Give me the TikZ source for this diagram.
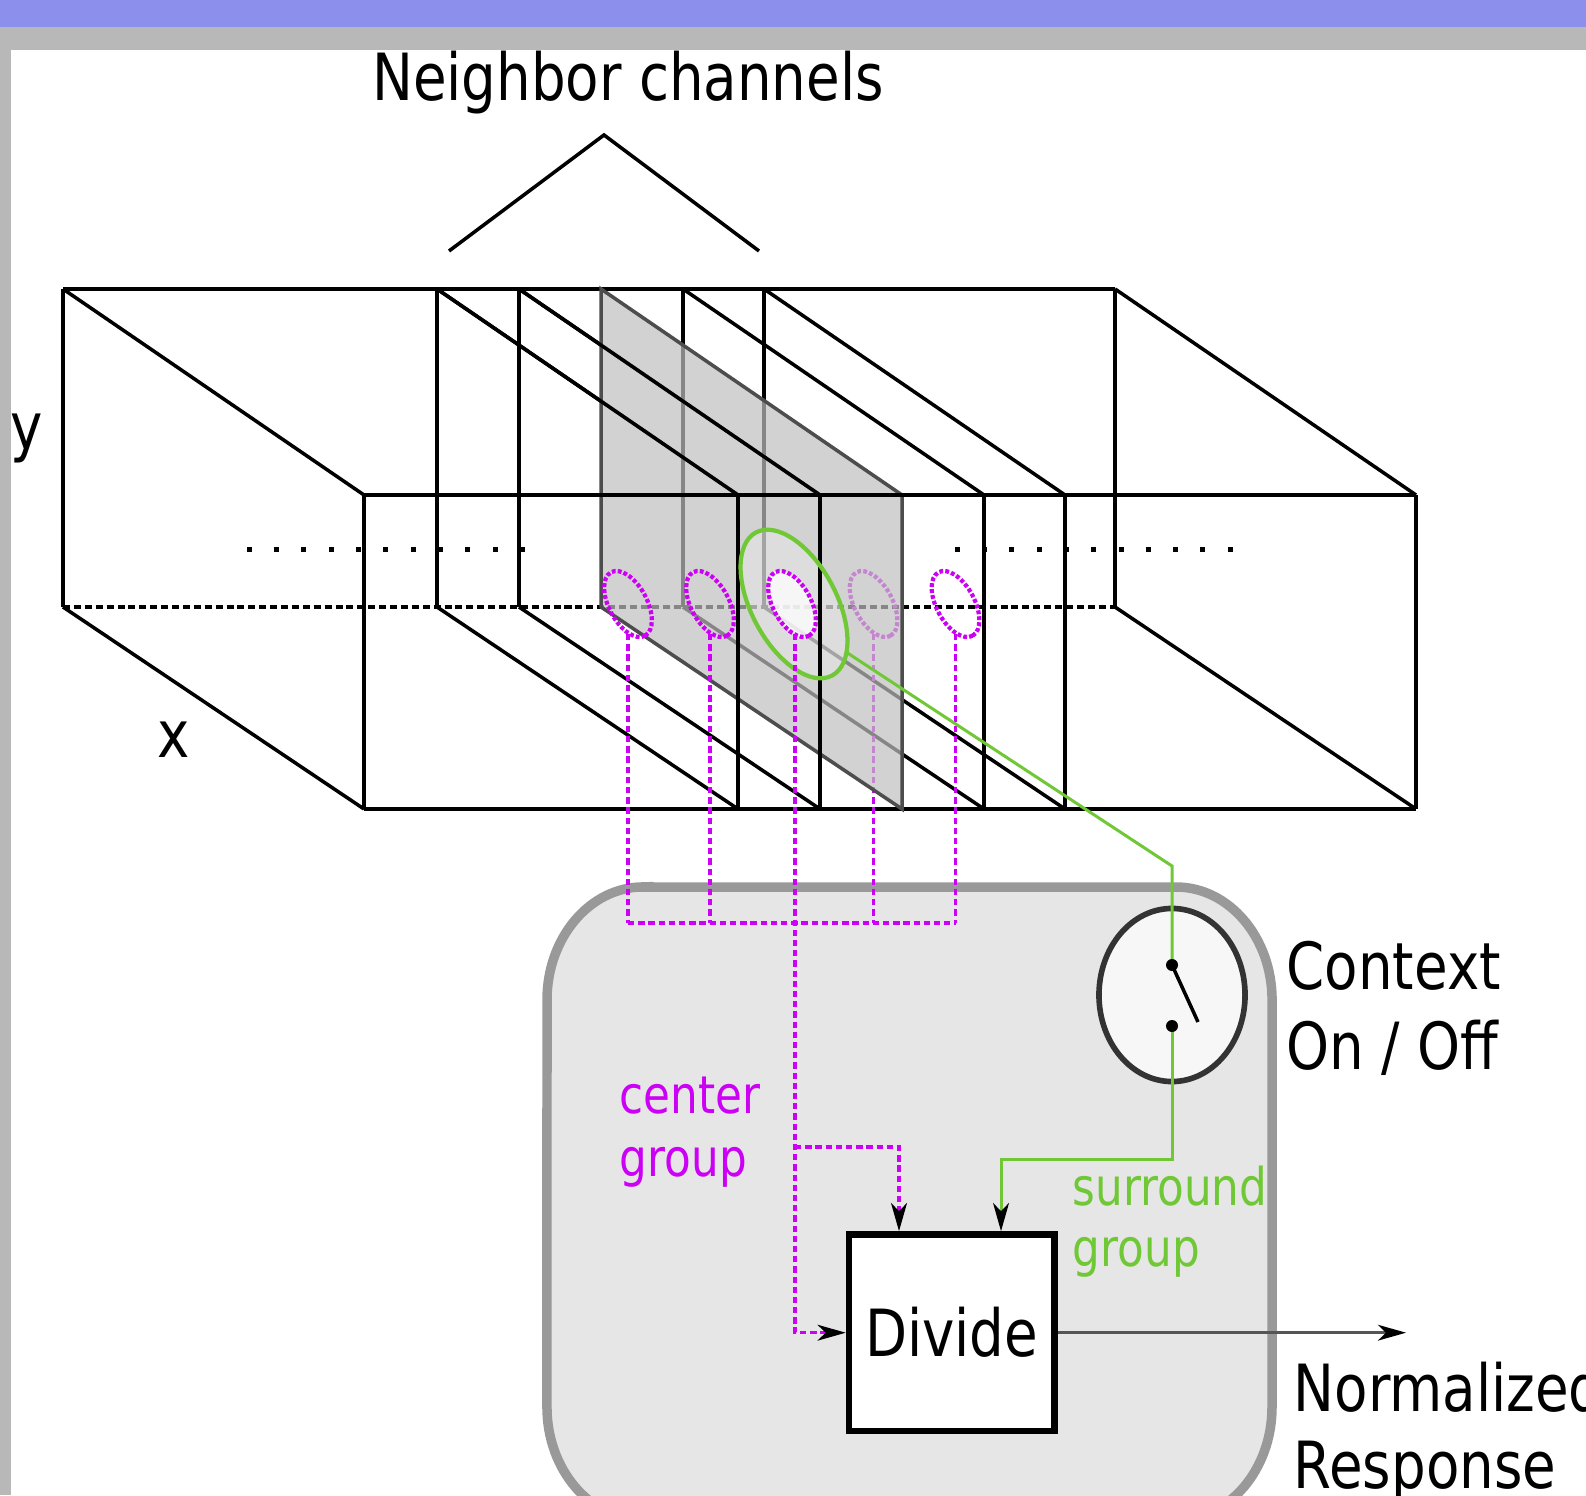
\documentclass[tikz,border=0pt]{standalone}
\usepackage{fontspec}
\usetikzlibrary{arrows.meta,shapes.geometric}
\newfontfamily\dv[FakeStretch=0.84]{DejaVu Sans}
\definecolor{magc}{RGB}{204,0,245}
\definecolor{grn}{RGB}{113,200,55}
\definecolor{topblue}{RGB}{140,143,235}
\definecolor{bandgray}{RGB}{184,184,184}
\definecolor{boxfill}{RGB}{230,230,230}
\definecolor{boxline}{RGB}{153,153,153}
\definecolor{slicefill}{RGB}{192,192,192}
\definecolor{sliceedge}{RGB}{77,77,77}
\definecolor{swline}{RGB}{51,51,51}
\definecolor{swfill}{RGB}{247,247,247}
\definecolor{outc}{RGB}{85,85,85}
\begin{document}
\begin{tikzpicture}[x=0.01cm, y=-0.01cm,
  wire/.style={line width=1pt, black},
  backdash/.style={line width=1pt, black, dash pattern=on 2pt off 1.1pt},
  magline/.style={magc, line width=1pt, dash pattern=on 1.8pt off 1.1pt},
  magell/.style={magc, line width=1.2pt, dash pattern=on 1.1pt off 0.6pt},
  grline/.style={grn, line width=0.85pt},
  bigtxt/.style={font=\dv\fontsize{18.5}{22}\selectfont, inner sep=0pt},
  smalltxt/.style={font=\dv\fontsize{14.8}{17}\selectfont, inner sep=0pt},
  tipped/.style={-{Stealth[length=8pt,width=4.5pt,inset=2.3pt,color=black]}},
]
\useasboundingbox (0,0) rectangle (1586,1495);
\clip (0,0) rectangle (1586,1495);
\fill[white] (0,0) rectangle (1586,1495);
\fill[topblue] (0,0) rectangle (1586,27);
\fill[bandgray] (0,27) rectangle (1586,50);
\fill[bandgray] (0,50) rectangle (11,1495);

% rounded container
\draw[boxline, fill=boxfill, line width=2.7pt]
  (643,887) -- (1176,887) arc[start angle=90, end angle=0, x radius=0.96cm, y radius=1.13cm]
  -- (1272,1407) arc[start angle=0, end angle=-90, x radius=0.96cm, y radius=1.13cm]
  -- (643,1520) arc[start angle=270, end angle=180, x radius=0.96cm, y radius=1.13cm]
  -- (547,1000) arc[start angle=180, end angle=90, x radius=0.96cm, y radius=1.13cm] -- cycle;

% caret and title
\coordinate (cl) at (449,251);
\coordinate (ca) at (604,135);
\coordinate (cr) at (759,251);
\draw[wire] (cl) -- (ca) -- (cr);
\node[bigtxt, anchor=base] (nc) at (628,101) {Neighbor channels};

% wireframe
\foreach \xb in {63,437,519,683,764,1115} {
  \draw[wire] (\xb,289) -- (\xb+301,495);
  \draw[wire] (\xb,607) -- (\xb+301,809);
  \draw[wire] (\xb+301,495) -- (\xb+301,809);
  \draw[wire] (\xb,289) -- (\xb,607);
}
\draw[wire] (63,289) -- (1115,289);
\draw[wire] (364,495) -- (1416,495);
\draw[wire] (364,809) -- (1416,809);
\draw[backdash] (63,607) -- (1115,607);

% dots
\foreach \i in {0,...,10} {
  \fill (249.3+27.3*\i-2.5,547.5) rectangle ++(5,5);
  \fill (957+27.33*\i-2.5,547.5) rectangle ++(5,5);
}

% magenta ellipse behind the centre slice
\draw[magell, shift={(873.5,604)}, rotate=-62] (0,0) ellipse [x radius=0.36cm, y radius=0.19cm];
\coordinate (m4) at (873.5,634);
\draw[magline] (m4) -- (873.5,923);

% centre slice
\fill[slicefill, fill opacity=0.7] (601,289) -- (902,495) -- (902,809) -- (601,607) -- cycle;
\draw[sliceedge, line width=1pt] (601,289) -- (902,495) -- (902,809) -- (601,607) -- cycle;

% light fills
\fill[white, fill opacity=0.25, shift={(794,604)}, rotate=-62] (0,0) ellipse [x radius=0.81cm, y radius=0.425cm];
\fill[white, fill opacity=0.75, shift={(792,604)}, rotate=-62] (0,0) ellipse [x radius=0.36cm, y radius=0.19cm];

% lines in front of slice
\draw[wire] (364,495) -- (1416,495);
\draw[wire] (738,495) -- (738,809);
\draw[wire] (820,495) -- (820,809);
\draw[wire] (437,289) -- (738,495);
\draw[wire] (519,289) -- (820,495);

% green receptive field
\draw[grn, line width=1.2pt, shift={(794,604)}, rotate=-62] (0,0) ellipse [x radius=0.81cm, y radius=0.425cm];

% magenta ellipses in front
\foreach \cx in {628,710,792,955.5} {
  \draw[magell, shift={(\cx,604)}, rotate=-62] (0,0) ellipse [x radius=0.36cm, y radius=0.19cm];
}
\coordinate (m1) at (628,634);
\coordinate (m2) at (710,634);
\coordinate (m3) at (795,634);
\coordinate (m5) at (955.5,634);
\coordinate (h1) at (628,923);
\coordinate (h5) at (955.5,923);
\draw[magline] (m1) -- (h1);
\draw[magline] (m2) -- (710,923);
\draw[magline] (m5) -- (h5);
\draw[magline] (h1) -- (h5);

% switch
\node[ellipse, draw=swline, line width=1.6pt, fill=swfill, minimum width=1.46cm, minimum height=1.73cm, inner sep=0pt] (switch) at (1172,995) {};
\coordinate (gs) at (846,652);
\coordinate (gk) at (1172,866);
\coordinate (st) at (1172,965);
\coordinate (sb) at (1172,1026);
\coordinate (lv) at (1198,1022);
\draw[grline] (gs) -- (gk) -- (st);

% divide
\node[draw, line width=1.8pt, fill=white, minimum width=2.055cm, minimum height=1.965cm, inner sep=0pt, font=\dv\fontsize{18.5}{22}\selectfont] (divide) at (951.7,1332.7) {Divide};

\coordinate (cj) at (795,1147);
\coordinate (cb) at (899,1147);
\coordinate (gl) at (1001,1159);
\coordinate (out) at (1406,1332.7);
\draw[magline, tipped] (m3) |- (divide.west);
\draw[magline, tipped] (cj) -- (cb) -- (cb |- divide.north);
\draw[grline, tipped] (sb) |- (gl) -- (gl |- divide.north);
\draw[outc, line width=0.7pt, tipped] (divide.east) -- (out);

\draw[black, line width=1pt] (st) -- (lv);
\fill (st) circle [radius=0.06cm];
\fill (sb) circle [radius=0.06cm];

% labels
\node[bigtxt, anchor=base west] (ylab) at (10,450) {y};
\node[bigtxt, anchor=base west] (xlab) at (157,757) {x};
\node[bigtxt, anchor=base west] (ctx1) at (1286,989) {Context};
\node[bigtxt, anchor=base west] (ctx2) at (1286,1069) {On / Off};
\node[bigtxt, anchor=base west] (nr1) at (1293,1411) {Normalized};
\node[bigtxt, anchor=base west] (nr2) at (1293,1488) {Response};
\node[smalltxt, text=magc, anchor=base west] (cg1) at (619,1113) {center};
\node[smalltxt, text=magc, anchor=base west] (cg2) at (619,1176) {group};
\node[smalltxt, text=grn, anchor=base west] (sg1) at (1072,1205) {surround};
\node[smalltxt, text=grn, anchor=base west] (sg2) at (1072,1266) {group};
\end{tikzpicture}
\end{document}
